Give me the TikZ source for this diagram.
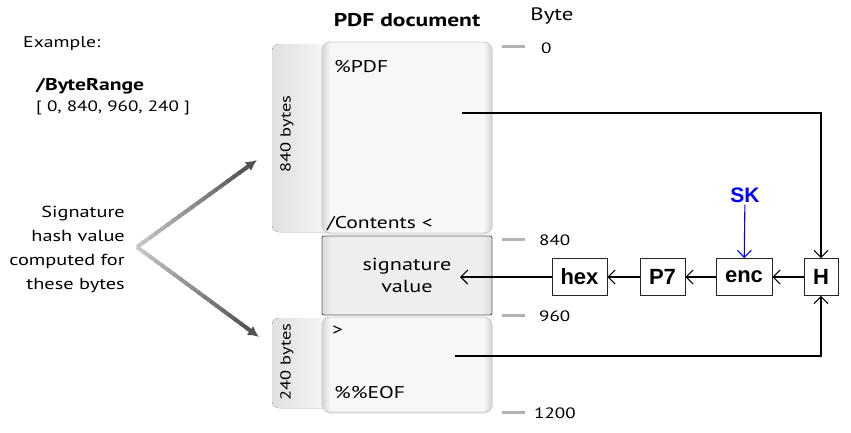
\documentclass[tikz,border=0pt]{standalone}
\usepackage{fontspec}
\setmainfont{PT Sans}[FakeStretch=1.27]
\newfontfamily\arialf{Liberation Sans}
\usetikzlibrary{arrows.meta,shadows,calc}
\pgfdeclarehorizontalshading{docshade}{100bp}{color(0bp)=(gray!32); color(25bp)=(gray!32); color(27.5bp)=(gray!6); color(72.5bp)=(gray!6); color(75bp)=(gray!35); color(100bp)=(gray!35)}
\pgfdeclarehorizontalshading{sigshade}{100bp}{color(0bp)=(gray!30); color(25bp)=(gray!30); color(28bp)=(gray!13); color(72bp)=(gray!13); color(75bp)=(gray!30); color(100bp)=(gray!30)}
\begin{document}
\begin{tikzpicture}[x=1pt,y=-1pt,
  tabbox/.style={left color=gray!24, right color=gray!6, rounded corners=7pt},
  secbox/.style={shading=docshade, draw=gray!40, line width=0.8pt, rounded corners=8pt, drop shadow={opacity=0.18, shadow xshift=0.8pt, shadow yshift=-1.8pt}},
  sigbox/.style={shading=sigshade, draw=gray!75!black, line width=0.9pt, rounded corners=2pt},
  tick/.style={gray!60, line width=3pt},
  ticklab/.style={anchor=west, font=\fontsize{15}{17}\selectfont, inner sep=0pt},
  opbox/.style={draw=black!85, line width=0.8pt, font=\arialf\bfseries\fontsize{22}{24}\selectfont, minimum height=37pt, inner sep=0pt, fill=white},
  flow/.style={black, line width=1.1pt, -{Straight Barb[length=7pt,width=14pt]}},
  doctext/.style={font=\fontsize{17}{19}\selectfont, inner sep=0pt}
]
\useasboundingbox (0,0) rectangle (851,432);

% tabs
\fill[tabbox] (272,44) rectangle (334,232);
\fill[tabbox] (272,318) rectangle (334,408);
\node[rotate=90, font=\fontsize{14.5}{17}\selectfont] (t840) at (287,134) {840 bytes};
\node[rotate=90, font=\fontsize{14.5}{17}\selectfont] (t240) at (287,362) {240 bytes};

% document sections
\path[secbox] (322,42) rectangle (492,233);
\path[secbox] (322,317) rectangle (492,412);
\path[sigbox] (322,236) rectangle (492,315);

\node[font=\bfseries\fontsize{18.5}{20}\selectfont] (title) at (407,20) {PDF document};
\node[font=\fontsize{18}{20}\selectfont] (byte) at (552,16) {Byte};

\node[doctext, anchor=base west] (pdf) at (334,72) {\%PDF};
\node[doctext, anchor=base west] (cont) at (327,228) {/Contents <};
\node[doctext, anchor=base west] (gt) at (332,335) {>};
\node[doctext, anchor=base west] (eof) at (334,398) {\%\%EOF};
\node[doctext, align=center, font=\fontsize{17.5}{22}\selectfont] (sig) at (407,275) {signature\\value};

% ticks
\draw[tick] (502,46) -- (525,46);
\draw[tick] (502,239) -- (525,239);
\draw[tick] (502,315) -- (525,315);
\draw[tick] (502,412) -- (525,412);
\node[ticklab] (b0) at (541,48) {0};
\node[ticklab] (b840) at (539,240) {840};
\node[ticklab] (b960) at (539,316) {960};
\node[ticklab] (b1200) at (534,413) {1200};

% left texts
\node[anchor=west, font=\fontsize{15.5}{18}\selectfont, inner sep=0pt] (ex) at (23,44) {Example:};
\node[anchor=west, font=\bfseries\fontsize{17}{18}\selectfont, inner sep=0pt] (br) at (36,86) {/ByteRange};
\node[anchor=west, font=\fontsize{15}{18}\selectfont, inner sep=0pt] (brv) at (36,108) {[ 0, 840, 960, 240 ]};
\node[align=right, anchor=east, font=\fontsize{16}{24}\selectfont, inner sep=0pt] (hashtxt) at (125,249) {Signature\\hash value\\computed for\\these bytes};

% gradient arrows
\coordinate (apex) at (137,247);
\coordinate (up) at (257,160);
\coordinate (dn) at (259,337);
\foreach \i in {0,...,17}{
  \pgfmathsetmacro{\c}{22+\i*2.6}
  \draw[black!\c, line width=4pt] ($(apex)!\i/20!(up)$) -- ($(apex)!\i/20+0.06!(up)$);
  \draw[black!\c, line width=4pt] ($(apex)!\i/20!(dn)$) -- ($(apex)!\i/20+0.06!(dn)$);
}
\draw[black!68, line width=4pt, -{Latex[length=11pt,width=11pt]}] ($(apex)!0.9!(up)$) -- (up);
\draw[black!68, line width=4pt, -{Latex[length=11pt,width=11pt]}] ($(apex)!0.9!(dn)$) -- (dn);

% operation chain
\node[opbox, minimum width=55pt] (hex) at (579.5,277) {hex};
\node[opbox, minimum width=45pt] (p7) at (662.5,277) {P7};
\node[opbox, minimum width=56pt] (enc) at (744,277) {enc};
\node[opbox, minimum width=34pt] (H) at (821,277) {H};
\node[font=\arialf\bfseries\fontsize{21}{23}\selectfont, text=blue, inner sep=2pt] (sk) at (745,195) {SK};

\coordinate (top) at (462,113);
\coordinate (bot) at (455,356);
\coordinate (sigin) at (460,277);

\draw[flow] (top) -| (H.north);
\draw[flow] (bot) -| (H.south);
\draw[flow] (H) -- (enc);
\draw[flow] (enc) -- (p7);
\draw[flow] (p7) -- (hex);
\draw[flow] (hex) -- (sigin);
\draw[flow, blue] (sk) -- (enc);
\end{tikzpicture}
\end{document}
